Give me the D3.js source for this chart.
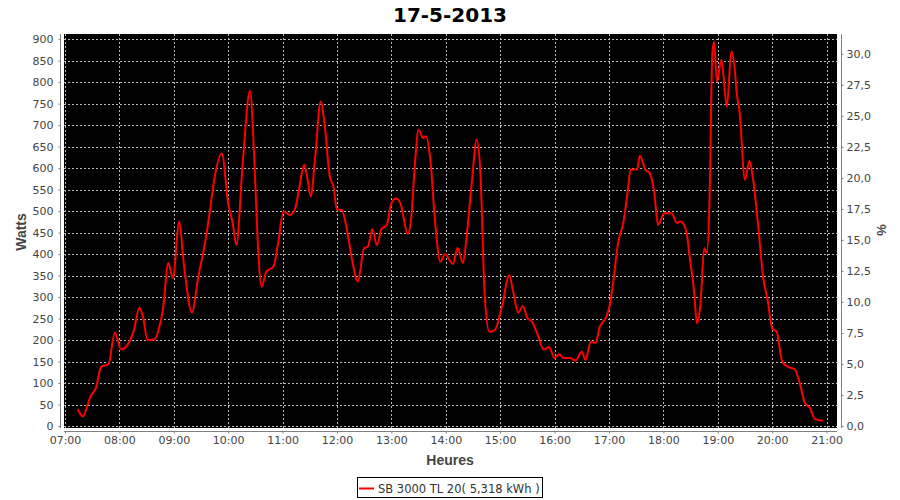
<!DOCTYPE html>
<html>
<head>
<meta charset="utf-8">
<script src="https://cdn.jsdelivr.net/npm/d3@7"></script>
<style>
  body { margin: 0; background: #fff; }
  svg { display: block; }
</style>
</head>
<body>
<svg id="chart" width="900" height="500"></svg>
<script>
const titleText = "17-5-2013";
const seriesName = "SB 3000 TL 20( 5,318 kWh )";
const xLabel = "Heures";
const yLabel = "Watts";
const y2Label = "%";

const times = ["07:14","07:20","07:23","07:28","07:34","07:40","07:48","07:55","08:02","08:12","08:16","08:22","08:26","08:31","08:39","08:45","08:48","08:54","08:59","09:06","09:11","09:20","09:27","09:34","09:40","09:44","09:53","10:00","10:05","10:09","10:16","10:24","10:29","10:32","10:37","10:42","10:50","10:55","11:01","11:08","11:14","11:18","11:24","11:27","11:31","11:36","11:42","11:47","11:52","11:56","12:00","12:05","12:11","12:16","12:23","12:30","12:34","12:39","12:44","12:49","12:55","13:00","13:05","13:10","13:18","13:22","13:26","13:30","13:35","13:38","13:43","13:48","13:54","13:59","14:08","14:13","14:19","14:23","14:29","14:34","14:38","14:43","14:48","14:54","15:02","15:10","15:14","15:20","15:25","15:30","15:35","15:41","15:48","15:54","16:00","16:05","16:10","16:17","16:23","16:30","16:34","16:40","16:45","16:50","16:57","17:01","17:05","17:10","17:16","17:20","17:24","17:31","17:34","17:40","17:45","17:50","17:54","18:01","18:09","18:15","18:19","18:25","18:29","18:34","18:37","18:41","18:45","18:48","18:51","18:54","18:56","18:59","19:04","19:10","19:15","19:19","19:21","19:24","19:30","19:35","19:39","19:45","19:50","19:55","20:00","20:05","20:11","20:17","20:25","20:30","20:36","20:42","20:47","20:56"];
const watts = [39,22,37,68,88,138,144,217,178,200,223,275,254,200,202,239,270,379,344,475,379,264,347,421,503,565,634,518,472,421,611,780,611,456,324,359,371,425,499,491,507,549,608,581,534,627,755,689,581,558,503,503,456,394,336,414,417,458,421,458,468,518,529,518,447,487,611,689,670,674,619,480,382,400,377,414,379,441,573,666,596,301,219,223,278,351,316,264,279,251,243,214,178,183,158,167,158,158,152,173,154,196,193,231,254,282,340,425,475,534,597,597,629,597,588,542,468,495,495,472,476,456,394,309,239,286,414,402,534,867,894,801,852,743,871,824,774,731,573,617,573,456,347,293,227,219,150,138,132,103,54,41,16,12];

const xTickLabels = ["07:00","08:00","09:00","10:00","11:00","12:00","13:00","14:00","15:00","16:00","17:00","18:00","19:00","20:00","21:00"];
const yTicks = d3.range(0, 901, 50);
const y2Ticks = d3.range(0, 30.01, 2.5);

const parse = d3.timeParse("%H:%M");
const data = times.map((t, i) => ({ t: parse(t), v: watts[i] }));

const svg = d3.select("#chart");
const plot = { left: 64, right: 837, top: 34, bottom: 426 };

const t0 = parse("07:00").getTime();
const x = d3.scaleTime()
  .domain([new Date(t0 - 66000), new Date(t0 + 852.6 * 60000 - 66000)])
  .range([plot.left, plot.right]);

const y = d3.scaleLinear().domain([0, 912]).range([plot.bottom, plot.top]);
const y2 = d3.scaleLinear().domain([0, 31.6]).range([plot.bottom, plot.top]);

const loc = d3.formatLocale({ decimal: ",", thousands: ".", grouping: [3], currency: ["", "€"] });
const fmt1 = loc.format(".1f");

// title
svg.append("text")
  .attr("x", 450).attr("y", 22)
  .attr("text-anchor", "middle")
  .style("font-family", "DejaVu Sans, sans-serif")
  .style("font-weight", "bold")
  .style("font-size", "20px")
  .attr("fill", "#000")
  .text(titleText);

// plot background
svg.append("rect")
  .attr("x", plot.left).attr("y", plot.top)
  .attr("width", plot.right - plot.left)
  .attr("height", plot.bottom - plot.top + 2)
  .attr("fill", "#000");

const xTickDates = xTickLabels.map(parse);

// gridlines
const grid = svg.append("g")
  .attr("stroke", "#b8b8b8")
  .attr("stroke-width", 1)
  .attr("stroke-dasharray", "2,2")
  .attr("shape-rendering", "crispEdges");
grid.selectAll("line.h").data(yTicks).join("line")
  .attr("class", "h")
  .attr("x1", plot.left).attr("x2", plot.right)
  .attr("y1", d => Math.round(y(d)) + 0.5).attr("y2", d => Math.round(y(d)) + 0.5);
grid.selectAll("line.v").data(xTickDates).join("line")
  .attr("class", "v")
  .attr("y1", plot.top).attr("y2", plot.bottom + 2)
  .attr("x1", d => Math.round(x(d)) + 0.5).attr("x2", d => Math.round(x(d)) + 0.5);

// series line
const line = d3.line()
  .x(d => x(d.t))
  .y(d => y(d.v))
  .curve(d3.curveMonotoneX);
svg.append("path")
  .datum(data)
  .attr("fill", "none")
  .attr("stroke", "#ff0000")
  .attr("stroke-width", 2)
  .attr("stroke-linejoin", "round")
  .attr("d", line);

function styleAxis(g) {
  g.select(".domain").attr("stroke", "#808080");
  g.selectAll(".tick line").attr("stroke", "#808080");
  g.selectAll(".tick text")
    .attr("fill", "#444")
    .style("font-family", "DejaVu Sans, sans-serif")
    .style("font-size", "11px");
}

// left axis
svg.append("g")
  .attr("transform", "translate(60.5,0)")
  .call(d3.axisLeft(y).tickValues(yTicks).tickSize(2).tickSizeOuter(0).tickPadding(5))
  .call(styleAxis)
  .call(g => g.select(".domain").attr("d", `M0,${plot.top}V${plot.bottom + 2}`));

// right axis
svg.append("g")
  .attr("transform", "translate(841.5,0)")
  .call(d3.axisRight(y2).tickValues(y2Ticks).tickFormat(fmt1).tickSize(2).tickSizeOuter(0).tickPadding(3))
  .call(styleAxis)
  .call(g => g.select(".domain").attr("d", `M0,${plot.top}V${plot.bottom + 2}`));

// bottom axis
svg.append("g")
  .attr("transform", "translate(0,431.5)")
  .call(d3.axisBottom(x).tickValues(xTickDates).tickFormat(d3.timeFormat("%H:%M")).tickSize(2).tickSizeOuter(0).tickPadding(3))
  .call(styleAxis)
  .call(g => g.select(".domain").attr("d", `M${plot.left},0H${plot.right}`));

// axis labels
svg.append("text")
  .attr("transform", "translate(26,232) rotate(-90)")
  .attr("text-anchor", "middle")
  .style("font-family", "Liberation Sans, Arial, sans-serif")
  .style("font-weight", "bold")
  .style("font-size", "14px")
  .attr("fill", "#444")
  .text(yLabel);

svg.append("text")
  .attr("x", 450).attr("y", 465)
  .attr("text-anchor", "middle")
  .style("font-family", "Liberation Sans, Arial, sans-serif")
  .style("font-weight", "bold")
  .style("font-size", "14px")
  .attr("fill", "#444")
  .text(xLabel);

svg.append("text")
  .attr("transform", "translate(877,230) rotate(90)")
  .attr("text-anchor", "middle")
  .style("font-family", "Liberation Sans, Arial, sans-serif")
  .style("font-weight", "bold")
  .style("font-size", "13px")
  .attr("fill", "#444")
  .text(y2Label);

// legend
const lg = svg.append("g");
lg.append("rect")
  .attr("x", 357.5).attr("y", 477.5)
  .attr("width", 185).attr("height", 20)
  .attr("fill", "#fff").attr("stroke", "#000").attr("stroke-width", 1);
lg.append("line")
  .attr("x1", 359).attr("x2", 374).attr("y1", 488.5).attr("y2", 488.5)
  .attr("stroke", "#ff0000").attr("stroke-width", 2);
lg.append("text")
  .attr("x", 378).attr("y", 493)
  .style("font-family", "DejaVu Sans, sans-serif")
  .style("font-size", "11.5px")
  .attr("fill", "#333")
  .text(seriesName);
</script>
</body>
</html>
